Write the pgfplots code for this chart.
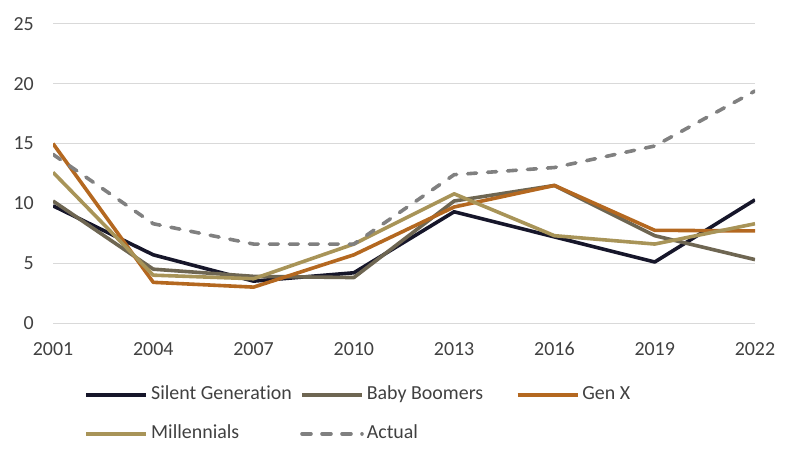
\documentclass[border=0pt]{standalone}
\usepackage{fontspec}
\setmainfont{Carlito}[Ligatures=NoCommon]
\usepackage{pgfplots}
\pgfplotsset{compat=1.18}
\definecolor{silentC}{RGB}{22,22,42}
\definecolor{boomerC}{RGB}{110,102,82}
\definecolor{genxC}{RGB}{180,104,32}
\definecolor{millC}{RGB}{168,148,88}
\definecolor{actualC}{RGB}{128,128,128}
\definecolor{gridC}{RGB}{217,217,217}
\definecolor{tickC}{RGB}{64,64,64}

\begin{document}
\begin{tikzpicture}
\begin{axis}[
    at={(0,0)}, anchor=south west,
    width=702bp, height=299bp, scale only axis,
    xmin=2001, xmax=2022, ymin=0, ymax=25,
    xtick={2001,2004,...,2022},
    ytick={0,5,...,25},
    axis line style={draw=none},
    major tick length=0pt,
    ymajorgrids=true,
    grid style={gridC, line width=1bp},
    tick label style={font=\fontsize{20}{24}\selectfont, text=tickC},
    /pgf/number format/assume math mode=true,
    x tick label style={/pgf/number format/1000 sep={}, inner sep=0pt, anchor=north, yshift=-19bp},
    y tick label style={inner sep=0pt, anchor=east, xshift=-19bp},
    legend columns=3,
    legend cell align=left,
    legend style={
        draw=none, fill=none, inner sep=0pt,
        at={(rel axis cs:0.5057,0)}, anchor=north, yshift=-62bp,
        font=\fontsize{20}{24}\selectfont, text=tickC,
        nodes={inner sep=0pt, text height=14bp, text depth=5bp},
        row sep=20bp,
        /tikz/every odd column/.append style={column sep=3bp},
        /tikz/every even column/.append style={column sep=0bp},
    },
    legend image code/.code={\draw[#1] (0bp,0bp) -- (60bp,0bp);},
    every axis plot/.append style={line width=3.6bp, line join=round},
]

\addplot[silentC] coordinates {
    (2001, 9.8) (2004, 5.7) (2007, 3.5) (2010, 4.2)
    (2013, 9.3) (2016, 7.2) (2019, 5.1) (2022, 10.3)
};
\addlegendentry{\makebox[149bp][l]{Silent Generation}}

\addplot[boomerC] coordinates {
    (2001, 10.2) (2004, 4.5) (2007, 3.9) (2010, 3.8)
    (2013, 10.2) (2016, 11.5) (2019, 7.3) (2022, 5.3)
};
\addlegendentry{\makebox[149bp][l]{Baby Boomers}}

\addplot[genxC] coordinates {
    (2001, 15.0) (2004, 3.4) (2007, 3.0) (2010, 5.7)
    (2013, 9.7) (2016, 11.5) (2019, 7.75) (2022, 7.7)
};
\addlegendentry{\makebox[149bp][l]{Gen X}}

\addplot[millC] coordinates {
    (2001, 12.6) (2004, 4.0) (2007, 3.7) (2010, 6.6)
    (2013, 10.8) (2016, 7.3) (2019, 6.6) (2022, 8.3)
};
\addlegendentry{\makebox[149bp][l]{Millennials}}

\addplot[actualC, line cap=round, dash pattern=on 9bp off 11bp] coordinates {
    (2001, 14.1) (2004, 8.3) (2007, 6.6) (2010, 6.6)
    (2013, 12.4) (2016, 13.0) (2019, 14.8) (2022, 19.4)
};
\addlegendentry{\makebox[149bp][l]{Actual}}

\end{axis}
\path[use as bounding box] (-53bp,-137bp) rectangle (747bp,323bp);
\end{tikzpicture}
\end{document}
